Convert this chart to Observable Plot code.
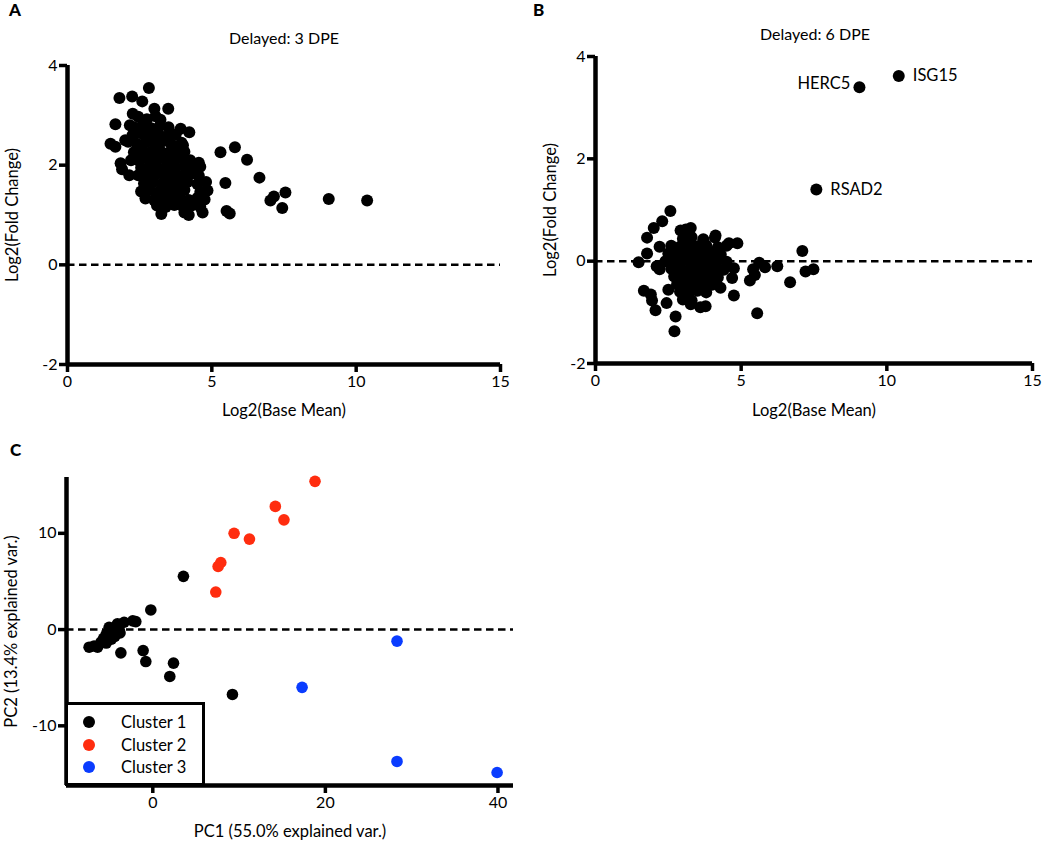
<!DOCTYPE html>
<html><head><meta charset="utf-8">
<script src="https://cdn.jsdelivr.net/npm/d3@7"></script>
<script src="https://cdn.jsdelivr.net/npm/@observablehq/plot@0.6"></script>
<style>
body{margin:0;background:#fff;font-family:Lato,sans-serif;color:#000;}
#root{position:relative;width:1050px;height:841px;overflow:hidden;background:#fff;}
.panel{position:absolute;}
.title{position:absolute;font-size:16px;transform:translate(-50%,-50%);white-space:nowrap;}
.letter{position:absolute;font-size:17px;font-weight:900;line-height:1;}
.legend{position:absolute;border:3.5px solid #000;background:#fff;box-sizing:border-box;}
.legend .row{position:absolute;left:0;height:20px;display:flex;align-items:center;font-size:16.5px;}
.legend .dot{position:absolute;width:12px;height:12px;border-radius:50%;}
</style></head>
<body><div id="root"></div>
<script>
// ---------- Data ----------
const panelTitles = ["Delayed: 3 DPE", "Delayed: 6 DPE"];
const panelLetters = ["A", "B", "C"];
const maXLabel = "Log2(Base Mean)";
const maYLabel = "Log2(Fold Change)";
const maXTicks = [0, 5, 10, 15];
const maYTicks = [-2, 0, 2, 4];

// Panel A: [log2 base mean, log2 fold change]
const dpe3Points = [
 [2.82,3.55],[1.80,3.35],[2.24,3.38],[2.59,3.28],[3.01,3.13],[3.49,3.13],[2.26,3.03],[1.66,2.82],[3.22,2.91],[2.16,2.80],
 [3.92,2.73],[4.22,2.66],[1.49,2.43],[1.66,2.37],[5.30,2.26],[5.80,2.36],[6.22,2.11],[6.65,1.75],[5.47,1.64],[7.15,1.37],
 [7.55,1.45],[7.03,1.29],[7.44,1.14],[9.05,1.32],[10.38,1.29],[5.51,1.08],[5.62,1.03],[3.25,1.02],[4.05,1.05],[4.20,1.00],
 [4.68,1.05],[4.55,2.05],[4.32,2.04],[4.00,2.40],[1.84,2.04],[1.89,1.92],[2.14,1.80],[2.20,2.10],[2.00,2.50],
 [2.45,2.97],[2.75,2.92],[3.05,2.98],
 [2.30,2.76],[2.60,2.80],[2.90,2.74],[3.20,2.79],[3.50,2.76],
 [2.25,2.60],[2.55,2.64],[2.85,2.60],[3.15,2.63],[3.45,2.58],[3.75,2.62],
 [2.10,2.47],[2.40,2.43],[2.70,2.46],[3.00,2.44],[3.30,2.48],[3.60,2.42],[3.95,2.45],
 [2.30,2.26],[2.60,2.30],[2.90,2.27],[3.20,2.30],[3.50,2.25],[3.80,2.29],[4.05,2.27],
 [2.45,2.10],[2.75,2.14],[3.05,2.11],[3.35,2.13],[3.65,2.10],[3.95,2.14],[4.25,2.10],
 [2.55,1.95],[2.85,1.98],[3.15,1.94],[3.45,1.97],[3.75,1.95],[4.05,1.98],[4.35,1.94],[4.60,1.97],
 [2.45,1.80],[2.75,1.78],[3.05,1.82],[3.35,1.79],[3.65,1.81],[3.95,1.78],[4.25,1.82],[4.55,1.79],
 [2.65,1.63],[2.95,1.66],[3.25,1.62],[3.55,1.65],[3.85,1.63],[4.15,1.66],[4.50,1.62],[4.80,1.66],
 [2.55,1.47],[2.85,1.50],[3.15,1.46],[3.45,1.49],[3.75,1.47],[4.05,1.50],[4.60,1.46],[4.85,1.49],
 [2.70,1.33],[3.00,1.30],[3.30,1.34],[3.60,1.31],[3.90,1.33],[4.20,1.30],[4.50,1.34],[4.75,1.31],
 [3.10,1.19],[3.40,1.16],[3.70,1.20],[4.00,1.17],[4.30,1.19],[4.60,1.16]
];

// Panel B: [log2 base mean, log2 fold change]
const dpe6Points = [
 [2.57,0.98],[2.29,0.78],[2.00,0.65],[1.77,0.46],[1.48,-0.02],[1.77,0.15],[2.20,0.28],[2.92,0.60],[3.27,0.65],[3.10,0.62],
 [4.12,0.50],[4.58,0.35],[4.87,0.35],[7.10,0.20],[7.21,-0.20],[7.48,-0.16],[6.68,-0.41],[6.24,-0.10],[5.82,-0.12],[5.62,-0.03],
 [5.41,-0.16],[5.47,-0.27],[5.30,-0.38],[5.55,-1.02],[4.75,-0.67],[4.29,-0.52],[4.69,-0.33],[3.78,-0.88],[3.60,-0.90],[3.27,-0.84],
 [2.75,-1.08],[2.71,-1.37],[2.06,-0.96],[1.94,-0.77],[1.66,-0.58],[1.90,-0.65],[2.44,-0.82],[2.50,-0.56],[2.20,-0.16],[2.10,-0.10],
 [3.00,0.44],[3.30,0.47],[3.70,0.43],[4.10,0.46],
 [2.60,0.30],[2.90,0.28],[3.20,0.32],[3.50,0.29],[3.80,0.31],[4.20,0.27],[4.50,0.30],
 [2.50,0.15],[2.80,0.17],[3.10,0.13],[3.40,0.16],[3.70,0.14],[4.00,0.17],[4.30,0.13],
 [2.40,0.00],[2.70,-0.02],[3.00,0.02],[3.30,-0.01],[3.60,0.01],[3.90,-0.02],[4.20,0.02],[4.50,-0.01],
 [2.60,-0.15],[2.90,-0.13],[3.20,-0.17],[3.50,-0.14],[3.80,-0.16],[4.10,-0.13],[4.40,-0.17],[4.75,-0.14],
 [2.70,-0.30],[3.00,-0.32],[3.30,-0.28],[3.60,-0.31],[3.90,-0.29],[4.20,-0.32],
 [2.80,-0.45],[3.10,-0.43],[3.40,-0.47],[3.70,-0.44],[4.00,-0.46],
 [2.90,-0.60],[3.20,-0.62],[3.50,-0.58],[3.80,-0.61],
 [3.00,-0.75],[3.30,-0.77]
];
const geneNames = ["ISG15", "HERC5", "RSAD2"];
const geneBaseMean = [10.41, 9.06, 7.58];
const geneFoldChange = [3.62, 3.40, 1.40];
const geneLabelSide = ["right", "left", "right"];

// Panel C: PCA
const clusterNames = ["Cluster 1", "Cluster 2", "Cluster 3"];
const clusterColors = ["#000000", "#ff2d0f", "#0a3cff"];
const cluster1PC = [
 [3.55,5.53],[-0.23,2.04],[9.23,-6.74],[1.97,-4.87],[2.40,-3.49],[-0.81,-3.32],[-1.12,-2.18],[-3.70,-2.42],
 [-1.97,0.83],[-2.32,0.90],[-3.32,0.76],[-5.06,0.24],[-7.38,-1.83],[-6.40,-1.83],[-6.00,-1.30],[-5.70,-0.90],
 [-5.40,-0.50],[-4.80,-0.30],[-4.50,0.00],[-4.20,0.20],[-3.90,0.00],[-4.80,-1.00],[-5.40,-1.40],[-6.80,-1.70],
 [-4.40,-0.70],[-3.80,-0.35],[-4.10,0.60]
];
const cluster2PC = [[18.8,15.4],[14.2,12.8],[15.2,11.4],[9.42,10.0],[11.2,9.4],[7.88,6.97],[7.57,6.56],[7.3,3.9]];
const cluster3PC = [[28.3,-1.2],[17.3,-6.0],[28.3,-13.7],[39.9,-14.85]];
const pcXLabel = "PC1 (55.0% explained var.)";
const pcYLabel = "PC2 (13.4% explained var.)";
const pcXTicks = [0, 20, 40];
const pcYTicks = [-10, 0, 10];

// ---------- Drawing ----------
const root = document.getElementById("root");
const FONT = "Lato, 'Open Sans', sans-serif";
const plainFormat = d => String(d);

function axisMarks(xDomain, yDomain, xTicks, yTicks) {
  return [
    Plot.ruleX([xDomain[0]], {stroke: "black", strokeWidth: 4.5}),
    Plot.ruleY([yDomain[0]], {stroke: "black", strokeWidth: 4.5}),
    Plot.axisX(xTicks, {tickSize: 8, tickPadding: 3, strokeWidth: 3.5, fontSize: 16, label: null, tickFormat: plainFormat}),
    Plot.axisY(yTicks, {tickSize: 8, tickPadding: 2, strokeWidth: 3.5, fontSize: 16, label: null, tickFormat: plainFormat})
  ];
}

function place(el, left, top) {
  const d = document.createElement("div");
  d.className = "panel";
  d.style.left = left + "px";
  d.style.top = top + "px";
  d.appendChild(el);
  root.appendChild(d);
}

function labelMarks(xLabel, yLabel, xDy, yDx) {
  return [
    Plot.text([xLabel], {frameAnchor: "bottom", dy: xDy, fontSize: 16.5, textAnchor: "middle", lineAnchor: "middle"}),
    Plot.text([yLabel], {frameAnchor: "left", dx: yDx, rotate: -90, fontSize: 16.5, textAnchor: "middle", lineAnchor: "middle"})
  ];
}

function maPanel(points, extra, opts) {
  const xDomain = [0, 15], yDomain = [-2, 4];
  return Plot.plot({
    width: opts.width, height: opts.height,
    marginLeft: opts.ml, marginRight: opts.mr, marginTop: opts.mt, marginBottom: opts.mb,
    style: {fontFamily: FONT, color: "black", background: "transparent", overflow: "visible"},
    x: {domain: xDomain, label: null},
    y: {domain: yDomain, label: null},
    marks: [
      Plot.ruleY([0], {stroke: "black", strokeWidth: 2.5, strokeDasharray: "7.5,4.5"}),
      Plot.dot(points, {x: d => d[0], y: d => d[1], r: 6, fill: "black", stroke: null}),
      ...extra,
      ...axisMarks(xDomain, yDomain, maXTicks, maYTicks),
      ...labelMarks(maXLabel, maYLabel, opts.xlDy, opts.ylDx)
    ]
  });
}

// Panel A
place(maPanel(dpe3Points, [], {width: 525, height: 430, ml: 67, mr: 25, mt: 65, mb: 66, xlDy: 46, ylDx: -55}), 0, 0);

// Panel B
const genes = geneNames.map((n, i) => ({name: n, x: geneBaseMean[i], y: geneFoldChange[i], side: geneLabelSide[i]}));
const geneMarks = [
  Plot.dot(genes, {x: "x", y: "y", r: 6, fill: "black", stroke: null}),
  Plot.text(genes.filter(g => g.side === "right"), {x: "x", y: "y", text: "name", dx: 14, textAnchor: "start", fontSize: 16.5}),
  Plot.text(genes.filter(g => g.side === "left"), {x: "x", y: "y", text: "name", dx: -9, dy: -3, textAnchor: "end", fontSize: 16.5})
];
place(maPanel(dpe6Points, geneMarks, {width: 525, height: 430, ml: 70, mr: 18, mt: 56, mb: 67, xlDy: 47, ylDx: -45}), 525, 0);

// Panel C
const pcData = [
  ...cluster1PC.map(p => ({x: p[0], y: p[1], c: clusterNames[0]})),
  ...cluster2PC.map(p => ({x: p[0], y: p[1], c: clusterNames[1]})),
  ...cluster3PC.map(p => ({x: p[0], y: p[1], c: clusterNames[2]}))
];
const pcX = [-10, 41.8], pcY = [-16.2, 15.8];
const pcPlot = Plot.plot({
  width: 525, height: 411, marginLeft: 66, marginRight: 12, marginTop: 47, marginBottom: 56,
  style: {fontFamily: FONT, color: "black", background: "transparent", overflow: "visible"},
  x: {domain: pcX, label: null},
  y: {domain: pcY, label: null},
  color: {domain: clusterNames, range: clusterColors},
  marks: [
    Plot.ruleY([0], {stroke: "black", strokeWidth: 2.5, strokeDasharray: "7.5,4.5"}),
    Plot.dot(pcData, {x: "x", y: "y", fill: "c", r: 5.8, stroke: null}),
    ...axisMarks(pcX, pcY, pcXTicks, pcYTicks),
    ...labelMarks(pcXLabel, pcYLabel, 46, -55)
  ]
});
place(pcPlot, 0, 430);

// Titles and panel letters
function addText(cls, text, left, top) {
  const d = document.createElement("div");
  d.className = cls; d.textContent = text;
  d.style.left = left + "px"; d.style.top = top + "px";
  root.appendChild(d);
}
addText("title", panelTitles[0], 284, 37);
addText("title", panelTitles[1], 815, 33);
addText("letter", panelLetters[0], 9, 1);
addText("letter", panelLetters[1], 533, 1);
addText("letter", panelLetters[2], 10, 441);

// Legend for panel C
const lg = document.createElement("div");
lg.className = "legend";
lg.style.left = "65px"; lg.style.top = "702px"; lg.style.width = "140px"; lg.style.height = "84px";
clusterNames.forEach((n, i) => {
  const row = document.createElement("div");
  row.className = "row";
  row.style.top = (7 + i * 22.5) + "px";
  row.style.width = "130px";
  const dot = document.createElement("div");
  dot.className = "dot";
  dot.style.background = clusterColors[i];
  dot.style.left = "15px"; dot.style.top = "4px";
  const t = document.createElement("span");
  t.textContent = n;
  t.style.position = "absolute"; t.style.left = "53px";
  row.appendChild(dot); row.appendChild(t);
  lg.appendChild(row);
});
root.appendChild(lg);
</script>
</body></html>
